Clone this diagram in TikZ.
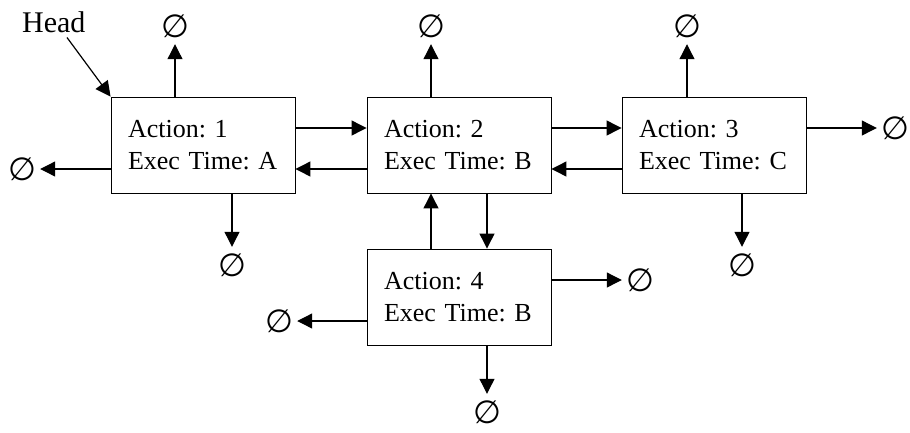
\documentclass[tikz,border=0pt]{standalone}
\usepackage{fontspec}
\setmainfont{Liberation Serif}
\newfontfamily\esfont{DejaVu Sans}
\usetikzlibrary{arrows.meta}
\begin{document}
\frenchspacing
\begin{tikzpicture}[x=1pt,y=-1pt,
  box/.style={draw, line width=0.9pt, minimum width=184pt, minimum height=96pt,
    text width=150pt, align=left, inner xsep=17pt, inner ysep=0pt,
    font=\fontsize{26}{32}\selectfont},
  arr/.style={-{Triangle[length=15pt,width=15pt]}, line width=1.2pt},
  nil/.style={circle, minimum size=36pt, inner sep=0pt,
    font=\esfont\fontsize{32}{32}\selectfont}]
\useasboundingbox (0,0) rectangle (910,432);

% action boxes
\node[box] (b1) at (203,145) {Action: 1\\Exec Time: A};
\node[box] (b2) at (459,145) {Action: 2\\Exec Time: B};
\node[box] (b3) at (714,145) {Action: 3\\Exec Time: C};
\node[box] (b4) at (459,297) {Action: 4\\Exec Time: B};

% head label
\node[anchor=base west, inner sep=0pt, font=\fontsize{30}{30}\selectfont] (head) at (22,32) {Head};

% null pointers
\node[nil] (n1u) at (175,26) {∅};
\node[nil] (n1l) at (22,169) {∅};
\node[nil] (n1d) at (232,265) {∅};
\node[nil] (n2u) at (431,26) {∅};
\node[nil] (n3u) at (687,26) {∅};
\node[nil] (n3r) at (895,128) {∅};
\node[nil] (n3d) at (742,265) {∅};
\node[nil] (n4r) at (640,280) {∅};
\node[nil] (n4l) at (279,321) {∅};
\node[nil] (n4d) at (487,412) {∅};

% head pointer
\draw[arr] ([xshift=-18.7pt,yshift=-5pt]head.south east) -- (b1.north west);

% links between boxes
\draw[arr] ([yshift=17pt]b1.east) -- ([yshift=17pt]b2.west);
\draw[arr] ([yshift=-24pt]b2.west) -- ([yshift=-24pt]b1.east);
\draw[arr] ([yshift=17pt]b2.east) -- ([yshift=17pt]b3.west);
\draw[arr] ([yshift=-24pt]b3.west) -- ([yshift=-24pt]b2.east);
\draw[arr] ([xshift=-28pt]b4.north) -- ([xshift=-28pt]b2.south);
\draw[arr] ([xshift=28pt]b2.south) -- ([xshift=28pt]b4.north);

% links to null
\draw[arr] (b1.north -| n1u) -- (n1u);
\draw[arr] (b1.west |- n1l) -- (n1l);
\draw[arr] (b1.south -| n1d) -- (n1d);
\draw[arr] (b2.north -| n2u) -- (n2u);
\draw[arr] (b3.north -| n3u) -- (n3u);
\draw[arr] (b3.east |- n3r) -- (n3r);
\draw[arr] (b3.south -| n3d) -- (n3d);
\draw[arr] (b4.east |- n4r) -- (n4r);
\draw[arr] (b4.west |- n4l) -- (n4l);
\draw[arr] (b4.south -| n4d) -- (n4d);
\end{tikzpicture}
\end{document}
